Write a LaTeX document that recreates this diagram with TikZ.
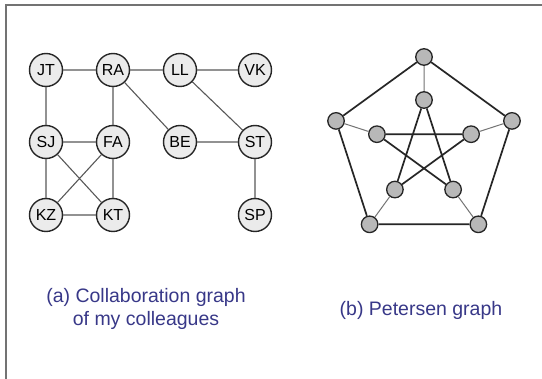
\documentclass[tikz,border=0pt]{standalone}
\usepackage{fontspec}
\setmainfont{Liberation Sans}
\begin{document}
\begin{tikzpicture}[x=1pt,y=-1pt,
  person/.style={circle,draw=black!85,line width=1.4pt,fill=black!8,
    minimum size=33pt,inner sep=0pt,font=\fontsize{16}{16}\selectfont},
  tie/.style={draw=black!65,line width=1.1pt},
  pnode/.style={circle,draw=black!85,line width=1.3pt,fill=black!28,
    minimum size=16.5pt,inner sep=0pt},
  rim/.style={draw=black!85,line width=1.7pt},
  spoke/.style={draw=black!55,line width=1pt},
  caption/.style={font=\fontsize{19.5}{23}\selectfont,text=blue!40!black!78,align=center}]
\useasboundingbox (0,0) rectangle (542,379);
\fill[white] (0,0) rectangle (542,379);
% frame (top and left edges)
\draw[black!55,line width=1.6pt] (6,379) -- (6,5) -- (542,5);

% collaboration graph
\node[person] (JT) at (46,70) {JT};
\node[person] (RA) at (113,70) {RA};
\node[person] (LL) at (180,70) {LL};
\node[person] (VK) at (255,70) {VK};
\node[person] (SJ) at (46,142) {SJ};
\node[person] (FA) at (113,142) {FA};
\node[person] (BE) at (180,142) {BE};
\node[person] (ST) at (255,142) {ST};
\node[person] (KZ) at (46,215) {KZ};
\node[person] (KT) at (113,215) {KT};
\node[person] (SP) at (255,215) {SP};
\path[tie] (JT) -- (RA) (RA) -- (LL) (LL) -- (VK)
  (JT) -- (SJ) (RA) -- (FA) (RA) -- (BE) (LL) -- (ST)
  (SJ) -- (FA) (BE) -- (ST) (ST) -- (SP)
  (SJ) -- (KZ) (SJ) -- (KT) (FA) -- (KZ) (FA) -- (KT) (KZ) -- (KT);

% Petersen graph
\foreach \i/\a in {0/90,1/18,2/-54,3/-126,4/162}{
  \node[pnode] (o\i) at ({424+92.5*cos(\a)},{149.5-92.5*sin(\a)}) {};
  \node[pnode] (n\i) at ({424+49.5*cos(\a)},{149.5-49.5*sin(\a)}) {};
}
\path[rim] (o0) -- (o1) (o1) -- (o2) (o2) -- (o3) (o3) -- (o4) (o4) -- (o0);
\path[rim] (n0) -- (n2) (n2) -- (n4) (n4) -- (n1) (n1) -- (n3) (n3) -- (n0);
\path[spoke] (o0) -- (n0) (o1) -- (n1) (o2) -- (n2) (o3) -- (n3) (o4) -- (n4);

% captions
\node[caption] (capa) at (146,309) {(a) Collaboration graph\\of my colleagues};
\node[caption] (capb) at (421,310) {(b) Petersen graph};
\end{tikzpicture}
\end{document}
